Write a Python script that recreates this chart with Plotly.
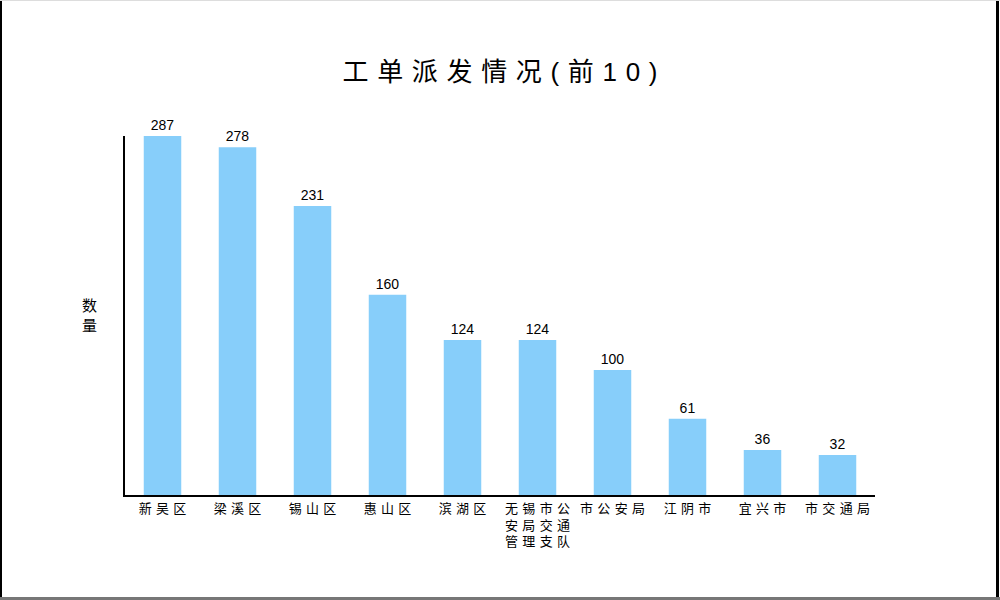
import plotly.graph_objects as go

categories = ["新吴区", "梁溪区", "锡山区", "惠山区", "滨湖区",
              "无锡市公安局交通管理支队", "市公安局", "江阴市", "宜兴市", "市交通局"]
tick_labels = ["新吴区", "梁溪区", "锡山区", "惠山区", "滨湖区",
               "无锡市公<br>安局交通<br>管理支队", "市公安局", "江阴市", "宜兴市", "市交通局"]
values = [287, 278, 231, 160, 124, 124, 100, 61, 36, 32]
title_text = "工单派发情况(前10)"
y_title = "数量"

W, H = 1000, 600
L, R, T, B = 125, 125, 136, 105
pw, ph = W - L - R, H - T - B
GAP = "\u2004"


def px(x):
    return (x - L) / pw


def py(y):
    return (H - B - y) / ph


def spaced(s):
    return GAP.join(list(s))


def tick_display(lbl):
    return "<br>".join(spaced(ln) for ln in lbl.split("<br>"))


fig = go.Figure(go.Bar(
    x=categories, y=values,
    marker=dict(color="#87CEFA", line=dict(width=0)),
    text=[str(v) for v in values], textposition="outside",
    textfont=dict(family="Liberation Sans, Arial", size=14, color="#000000"),
    cliponaxis=False,
))

fig.update_layout(
    width=W, height=H,
    margin=dict(l=L, r=R, t=T, b=B),
    paper_bgcolor="white", plot_bgcolor="white",
    bargap=0.5,
    showlegend=False,
    title=dict(text=spaced(title_text), x=0.5, xanchor="center", y=1 - 72 / H, yanchor="middle",
               font=dict(family="Liberation Sans, Noto Sans CJK SC", size=26, color="#000000")),
    xaxis=dict(
        tickmode="array", tickvals=categories,
        ticktext=[tick_display(t) for t in tick_labels],
        showline=True, linecolor="#000000", linewidth=2,
        ticks="", showgrid=False, zeroline=False,
        tickfont=dict(family="Noto Sans CJK SC", size=13, color="#000000"),
        range=[-0.5, 9.5], tickangle=0,
    ),
    yaxis=dict(
        range=[0, 287], showline=True, linecolor="#000000", linewidth=2,
        showticklabels=False, ticks="", showgrid=False, zeroline=False,
    ),
    annotations=[dict(
        text="<br>".join(list(y_title)), xref="paper", yref="paper", x=px(89), y=py(314),
        xanchor="center", yanchor="middle", showarrow=False,
        font=dict(family="Noto Sans CJK SC", size=15, color="#000000"),
    )],
    shapes=[
        dict(type="line", xref="paper", yref="paper", x0=px(1), x1=px(1), y0=py(0), y1=py(600),
             line=dict(color="#000000", width=2)),
        dict(type="line", xref="paper", yref="paper", x0=px(997.5), x1=px(997.5), y0=py(0), y1=py(600),
             line=dict(color="#000000", width=3)),
        dict(type="line", xref="paper", yref="paper", x0=px(0), x1=px(1000), y0=py(598.5), y1=py(598.5),
             line=dict(color="#777777", width=3)),
        dict(type="line", xref="paper", yref="paper", x0=px(0), x1=px(1000), y0=py(0.5), y1=py(0.5),
             line=dict(color="#DDDDDD", width=1)),
    ],
)

fig.write_html(
    "out.html",
    config={"displayModeBar": False},
    post_script="document.body.style.margin='0';document.body.style.overflow='hidden';",
)
